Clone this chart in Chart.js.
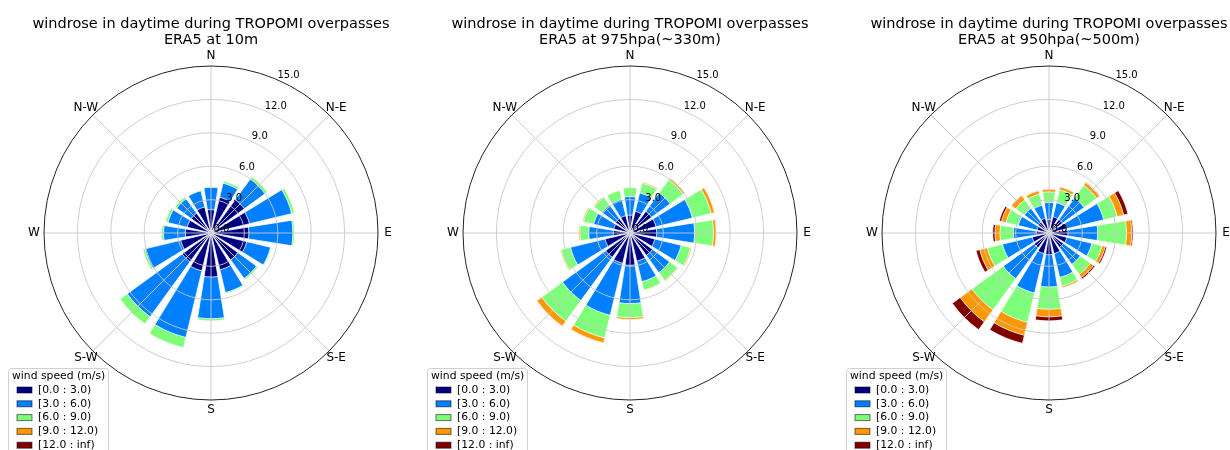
<!DOCTYPE html>
<html lang="en">
<head>
<meta charset="UTF-8">
<title>windrose</title>
<script src="https://cdn.jsdelivr.net/npm/chart.js@4.4.1/dist/chart.umd.min.js"></script>
<style>
  html, body { margin: 0; padding: 0; background: #fff; overflow: hidden; width: 1230px; height: 450px; }
  canvas { position: absolute; top: 0; }
</style>
</head>
<body>
<canvas id="rose1" width="420" height="450" style="left:1px"></canvas>
<canvas id="rose2" width="420" height="450" style="left:420px"></canvas>
<canvas id="rose3" width="420" height="450" style="left:839px"></canvas>
<script>
// 16 sectors, clockwise from north
var directions = ['N', 'NNE', 'NE', 'ENE', 'E', 'ESE', 'SE', 'SSE',
                  'S', 'SSW', 'SW', 'WSW', 'W', 'WNW', 'NW', 'NNW'];
var compassLabels = ['N', 'N-E', 'E', 'S-E', 'S', 'S-W', 'W', 'N-W'];
var speedBins = ['[0.0 : 3.0)', '[3.0 : 6.0)', '[6.0 : 9.0)', '[9.0 : 12.0)', '[12.0 : inf)'];
var binColors = ['#000080', '#0080ff', '#7dff7a', '#ff9700', '#800000'];
var tickValues = [0, 3, 6, 9, 12, 15];
var tickLabels = ['0.0', '3.0', '6.0', '9.0', '12.0', '15.0'];
var titleTop = 'windrose in daytime during TROPOMI overpasses';
var subtitles = ['ERA5 at 10m', 'ERA5 at 975hpa(~330m)', 'ERA5 at 950hpa(~500m)'];

// frequency (%) per sector for each speed bin
// ERA5 10m
var s10m_0_3   = [2.1, 3.3, 3.7, 3.55, 3.4, 3.3, 3.0, 3.4, 3.95, 3.5, 3.2, 2.8, 2.3, 2.2, 2.2, 2.4];
var s10m_3_6   = [2.0, 1.3, 2.3, 3.9, 3.95, 2.2, 2.05, 2.1, 3.75, 6.15, 6.1, 3.3, 1.96, 1.77, 1.6, 1.5];
var s10m_6_9   = [0.05, 0.2, 0.25, 0.25, 0.15, 0.1, 0.15, 0.1, 0.2, 0.95, 0.8, 0.2, 0.19, 0.23, 0.2, 0.05];
var s10m_9_12  = [0, 0, 0, 0.01, 0.01, 0, 0, 0, 0, 0.02, 0.02, 0, 0, 0, 0, 0];
var s10m_12    = [0, 0, 0, 0, 0, 0, 0, 0, 0, 0, 0, 0, 0, 0, 0, 0];
// ERA5 975hpa
var s975_0_3   = [1.6, 2.0, 2.4, 2.4, 2.4, 2.3, 2.5, 2.6, 2.9, 2.8, 2.7, 2.3, 1.5, 1.5, 1.6, 1.6];
var s975_3_6   = [1.67, 1.7, 2.06, 3.36, 3.4, 2.43, 1.9, 1.9, 3.44, 4.8, 4.8, 3.2, 2.2, 1.86, 1.5, 1.5];
var s975_6_9   = [0.81, 0.9, 1.44, 1.74, 1.7, 0.87, 0.87, 0.77, 1.26, 2.1, 2.3, 0.86, 0.8, 0.94, 0.87, 0.83];
var s975_9_12  = [0.04, 0.1, 0.2, 0.3, 0.24, 0.1, 0.08, 0.05, 0.17, 0.45, 0.55, 0.09, 0.1, 0.1, 0.08, 0.03];
var s975_12    = [0, 0, 0, 0.01, 0, 0, 0, 0, 0, 0.03, 0.02, 0, 0, 0, 0, 0];
// ERA5 950hpa
var s950_0_3   = [1.2, 1.5, 1.5, 1.65, 1.7, 1.65, 1.6, 1.9, 1.95, 1.9, 1.65, 1.55, 1.15, 1.1, 1.2, 1.35];
var s950_3_6   = [1.54, 1.3, 2.4, 3.4, 2.67, 2.31, 1.88, 2.2, 2.9, 3.65, 3.43, 2.75, 2.05, 1.74, 1.54, 1.22];
var s950_6_9   = [0.95, 1.2, 1.4, 1.25, 2.59, 0.94, 1.12, 0.8, 2.0, 2.7, 3.47, 1.4, 1.2, 1.13, 0.94, 1.03];
var s950_9_12  = [0.24, 0.25, 0.3, 0.6, 0.48, 0.3, 0.35, 0.15, 0.68, 1.2, 1.32, 0.7, 0.45, 0.43, 0.46, 0.3];
var s950_12    = [0.03, 0.03, 0.05, 0.4, 0.12, 0.15, 0.15, 0.02, 0.37, 0.75, 0.88, 0.35, 0.21, 0.2, 0.06, 0.03];

var BAR = 18, GAP = 4.5;   // degrees per sector bar / gap
var FONT = '"DejaVu Sans", sans-serif';

function decorPlugin(subtitle) {
  return {
    id: 'roseDecor',
    afterDatasetsDraw: function(chart) {
      var s = chart.scales.r, ctx = chart.ctx;
      var cx = s.xCenter, cy = s.yCenter;
      var R = s.getDistanceFromCenterForValue(15);
      var i, r, a;
      ctx.save();
      // grid circles (drawn over the bars, like matplotlib)
      ctx.strokeStyle = '#c8c8c8';
      ctx.lineWidth = 0.9;
      for (i = 1; i < tickValues.length - 1; i++) {
        r = s.getDistanceFromCenterForValue(tickValues[i]);
        ctx.beginPath();
        ctx.arc(cx, cy, r, 0, Math.PI * 2);
        ctx.stroke();
      }
      for (i = 0; i < 8; i++) {
        a = i * Math.PI / 4;
        ctx.beginPath();
        ctx.moveTo(cx, cy);
        ctx.lineTo(cx + R * Math.sin(a), cy - R * Math.cos(a));
        ctx.stroke();
      }
      // outer spine
      ctx.strokeStyle = '#222';
      ctx.lineWidth = 1;
      ctx.beginPath();
      ctx.arc(cx, cy, R, 0, Math.PI * 2);
      ctx.stroke();

      ctx.fillStyle = '#000';
      // radial tick labels at 22.5 deg
      ctx.font = '10px ' + FONT;
      ctx.textAlign = 'left';
      ctx.textBaseline = 'alphabetic';
      a = Math.PI / 8;
      for (i = 0; i < tickValues.length; i++) {
        r = s.getDistanceFromCenterForValue(tickValues[i]);
        ctx.fillText(tickLabels[i], cx + r * Math.sin(a) + 2.5, cy - r * Math.cos(a) - 1);
      }
      // compass labels
      ctx.font = '12px ' + FONT;
      ctx.textAlign = 'center';
      ctx.textBaseline = 'middle';
      for (i = 0; i < 8; i++) {
        a = i * Math.PI / 4;
        ctx.fillText(compassLabels[i], cx + (R + 10) * Math.sin(a), cy - (R + 10) * Math.cos(a));
      }
      // title
      ctx.font = '14.5px ' + FONT;
      ctx.textBaseline = 'alphabetic';
      ctx.fillText(titleTop, cx, 27.5);
      ctx.fillText(subtitle, cx, 44);

      // legend
      var lx = cx - 203, ly = 368;
      ctx.fillStyle = 'rgba(255,255,255,0.8)';
      ctx.strokeStyle = '#d0d0d0';
      ctx.lineWidth = 1;
      ctx.beginPath();
      ctx.roundRect(lx + 0.5, ly + 0.5, 100, 100, 3);
      ctx.fill();
      ctx.stroke();
      ctx.font = '10.8px ' + FONT;
      ctx.textAlign = 'left';
      ctx.textBaseline = 'middle';
      ctx.fillStyle = '#000';
      ctx.fillText('wind speed (m/s)', lx + 4, ly + 8);
      for (i = 0; i < speedBins.length; i++) {
        var y = ly + 22 + i * 13.8;
        ctx.fillStyle = binColors[i];
        ctx.fillRect(lx + 9, y - 3, 15, 6);
        ctx.strokeStyle = 'rgba(0,0,0,0.55)';
        ctx.strokeRect(lx + 9, y - 3, 15, 6);
        ctx.fillStyle = '#000';
        ctx.fillText(speedBins[i], lx + 30, y);
      }
      ctx.restore();
    }
  };
}

function makeRose(id, bins, subtitle) {
  var labels = [];
  directions.forEach(function(d) { labels.push(d, ''); });
  var running = directions.map(function() { return 0; });
  var datasets = bins.map(function(bin, b) {
    var data = [];
    bin.forEach(function(v, i) {
      running[i] += v;
      data.push(running[i], 0);   // bar, then empty gap slot
    });
    return {
      label: speedBins[b],
      data: data,
      backgroundColor: binColors[b],
      borderColor: '#ffffff',
      borderWidth: function(c) { return c.dataIndex % 2 ? 0 : 0.8; },
      angle: function(c) { return c.dataIndex % 2 ? GAP : BAR; }
    };
  });
  return new Chart(document.getElementById(id), {
    type: 'polarArea',
    data: { labels: labels, datasets: datasets },
    options: {
      responsive: false,
      animation: false,
      layout: { padding: { left: 43, right: 43, top: 66, bottom: 50 } },
      plugins: { legend: { display: false }, tooltip: { enabled: false } },
      scales: {
        r: {
          min: 0, max: 15,
          startAngle: -BAR / 2,
          ticks: { display: false, stepSize: 3 },
          grid: { display: false },
          angleLines: { display: false },
          pointLabels: { display: false }
        }
      }
    },
    plugins: [decorPlugin(subtitle)]
  });
}

makeRose('rose1', [s10m_0_3, s10m_3_6, s10m_6_9, s10m_9_12, s10m_12], subtitles[0]);
makeRose('rose2', [s975_0_3, s975_3_6, s975_6_9, s975_9_12, s975_12], subtitles[1]);
makeRose('rose3', [s950_0_3, s950_3_6, s950_6_9, s950_9_12, s950_12], subtitles[2]);
</script>
</body>
</html>
